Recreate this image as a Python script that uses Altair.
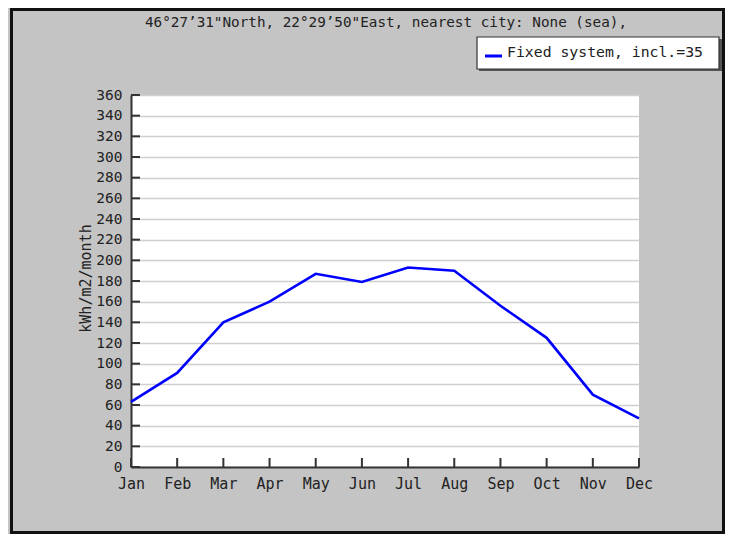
import altair as alt
import pandas as pd

months = ["Jan", "Feb", "Mar", "Apr", "May", "Jun", "Jul", "Aug", "Sep", "Oct", "Nov", "Dec"]
values = [63, 91, 140, 160, 187, 179, 193, 190, 156, 125, 70, 47]
y_ticks = list(range(0, 361, 20))
title_text = "46°27\u201931\"North, 22°29\u201950\"East, nearest city: None (sea),"
legend_label = "Fixed system, incl.=35"
y_title = "kWh/m2/month"

W, H = 508, 372
FONT = "DejaVu Sans Mono"

df = pd.DataFrame({"month": months, "value": values})
ticks_df = pd.DataFrame({"v": y_ticks})
months_df = pd.DataFrame({"m": months})
one = pd.DataFrame({"a": [0]})

xscale = alt.Scale(type="point", domain=months, padding=0)
yscale = alt.Scale(domain=[0, 360])

xaxis = alt.Axis(title=None, labelAngle=0, ticks=False, domain=True, domainColor="#333333",
                 domainWidth=2, labelFont=FONT, labelFontSize=15, labelColor="#222222",
                 labelPadding=9, grid=False, labelOverlap=False)
yaxis = alt.Axis(values=y_ticks, title=y_title, ticks=False, domain=True, domainColor="#333333",
                 domainWidth=2, labelFont=FONT, labelFontSize=14.5, labelColor="#222222",
                 labelPadding=9, grid=True, gridColor="#cfcfcf", gridWidth=1.5,
                 labelOverlap=False, labelBound=False,
                 titleFont=FONT, titleFontSize=15, titleFontWeight="normal", titleColor="#222222",
                 titleX=-46, titleY=183, titleAngle=270, titleAlign="center",
                 titleBaseline="middle")

frame = alt.Chart(one).mark_rect(filled=False, stroke="#111111", strokeWidth=3, clip=False).encode(
    x=alt.value(-119.5), x2=alt.value(592.5), y=alt.value(-85.5), y2=alt.value(437.5)
)

line = alt.Chart(df).mark_line(color="#0000ff", strokeWidth=2.6).encode(
    x=alt.X("month:O", scale=xscale, sort=months, axis=xaxis, title=None),
    y=alt.Y("value:Q", scale=yscale, axis=yaxis, title=y_title),
)

yt = alt.Chart(ticks_df).mark_rule(color="#333333", strokeWidth=2).encode(
    y=alt.Y("v:Q", scale=yscale, axis=yaxis, title=y_title), x=alt.value(0), x2=alt.value(9)
)
xt = alt.Chart(months_df).mark_rule(color="#333333", strokeWidth=2).encode(
    x=alt.X("m:O", scale=xscale, sort=months, axis=xaxis, title=None), y=alt.value(H - 9), y2=alt.value(H)
)

title = alt.Chart(one).mark_text(font=FONT, fontSize=14.3, color="#222222", align="center",
                                 baseline="middle").encode(
    x=alt.value(255), y=alt.value(-72), text=alt.value(title_text)
)

leg_shadow = alt.Chart(one).mark_rect(fill="#555555", clip=False).encode(
    x=alt.value(348), x2=alt.value(591), y=alt.value(-56), y2=alt.value(-24)
)
leg_box = alt.Chart(one).mark_rect(fill="#ffffff", stroke="#333333", strokeWidth=1.2, clip=False).encode(
    x=alt.value(346), x2=alt.value(588), y=alt.value(-58), y2=alt.value(-26)
)
leg_line = alt.Chart(one).mark_rule(color="#0000ff", strokeWidth=3).encode(
    x=alt.value(354), x2=alt.value(371), y=alt.value(-39)
)
leg_text = alt.Chart(one).mark_text(font=FONT, fontSize=14.8, color="#222222", align="left",
                                    baseline="middle").encode(
    x=alt.value(376), y=alt.value(-42), text=alt.value(legend_label)
)

chart = alt.layer(line, yt, xt, title, leg_shadow, leg_box, leg_line, leg_text, frame).properties(
    width=W, height=H,
    padding={"left": 123, "top": 87, "right": 86, "bottom": 67},
    autosize=alt.AutoSizeParams(type="none"),
    background="#c4c4c4",
).configure_view(fill="#ffffff", stroke=None)

chart.save("out.html", embed_options={"renderer": "svg", "actions": False})
